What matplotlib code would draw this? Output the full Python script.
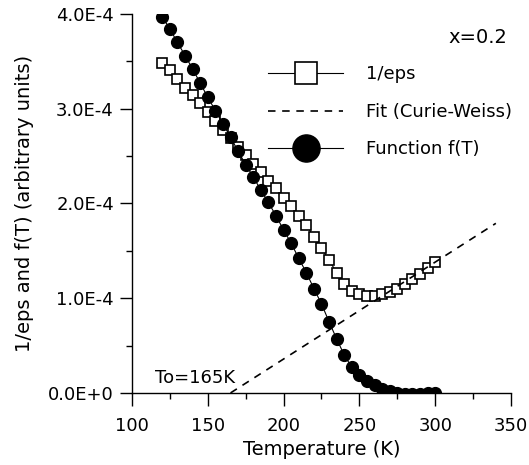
import numpy as np
import matplotlib
matplotlib.use("Agg")
import matplotlib.pyplot as plt
from matplotlib.ticker import MultipleLocator

# temperatures (K)
temps = np.arange(120, 301, 5)

# 1/eps (units of 1e-4)
inv_eps = [3.48, 3.41, 3.31, 3.22, 3.14, 3.06, 2.96, 2.87, 2.78, 2.69,
           2.60, 2.51, 2.42, 2.33, 2.24, 2.16, 2.06, 1.97, 1.87, 1.77,
           1.65, 1.53, 1.40, 1.27, 1.15, 1.08, 1.04, 1.02, 1.02, 1.04,
           1.07, 1.10, 1.15, 1.20, 1.26, 1.32, 1.38]

# function f(T) (units of 1e-4)
f_T = [3.97, 3.84, 3.70, 3.56, 3.42, 3.27, 3.12, 2.98, 2.84, 2.70,
       2.55, 2.41, 2.28, 2.14, 2.01, 1.87, 1.72, 1.58, 1.42, 1.27,
       1.10, 0.94, 0.75, 0.57, 0.40, 0.27, 0.19, 0.13, 0.08, 0.04,
       0.02, 0.00, -0.01, -0.01, -0.01, 0.00, 0.00]

# Curie-Weiss fit line endpoints
fit_T = [165, 340]
fit_v = [0.0, 1.79]

yticks = [0, 1e-4, 2e-4, 3e-4, 4e-4]
ytick_labels = ["0.0E+0", "1.0E-4", "2.0E-4", "3.0E-4", "4.0E-4"]

scale = 1e-4

plt.rcParams['font.family'] = 'DejaVu Sans'
fig = plt.figure(figsize=(5.29, 4.65), dpi=100)
ax = fig.add_axes([0.2495, 0.155, 0.7165, 0.815])

ax.plot(temps, np.array(inv_eps) * scale, color='black', lw=0.8,
        marker='s', ms=7, mfc='white', mec='black', mew=1.2, label='1/eps')
ax.plot(fit_T, np.array(fit_v) * scale, color='black', lw=1.2,
        ls=(0, (4.5, 4)), label='Fit (Curie-Weiss)')
ax.plot(temps, np.array(f_T) * scale, color='black', lw=0.8,
        marker='o', ms=8.5, mfc='black', mec='black', label='Function f(T)')

ax.set_xlim(100, 350)
ax.set_ylim(0, 4e-4)
ax.set_yticks(yticks)
ax.set_yticklabels(ytick_labels)
ax.xaxis.set_minor_locator(MultipleLocator(25))
ax.yaxis.set_minor_locator(MultipleLocator(0.5e-4))
ax.tick_params(which='major', direction='out', length=9, width=1, labelsize=13)
ax.tick_params(which='minor', direction='out', length=4.5, width=1)
ax.tick_params(axis='x', which='major', pad=8)
ax.tick_params(axis='y', which='major', pad=4)
for s in ['top', 'right']:
    ax.spines[s].set_visible(False)
ax.spines['left'].set_linewidth(1)
ax.spines['bottom'].set_linewidth(1)

ax.set_xlabel("Temperature (K)", fontsize=14, labelpad=4)
ax.set_ylabel("1/eps and f(T) (arbitrary units)", fontsize=14, labelpad=10)

ax.legend(loc='upper left', bbox_to_anchor=(0.315, 0.907), frameon=False,
          fontsize=13, markerscale=2.3, handlelength=4.2, labelspacing=1.08,
          handletextpad=1.25)

ax.text(0.99, 0.939, "x=0.2", transform=ax.transAxes, ha='right', va='center',
        fontsize=14)
ax.text(115, 0.16e-4, "To=165K", ha='left', va='center', fontsize=13)

fig.savefig("out.png", dpi=100)
